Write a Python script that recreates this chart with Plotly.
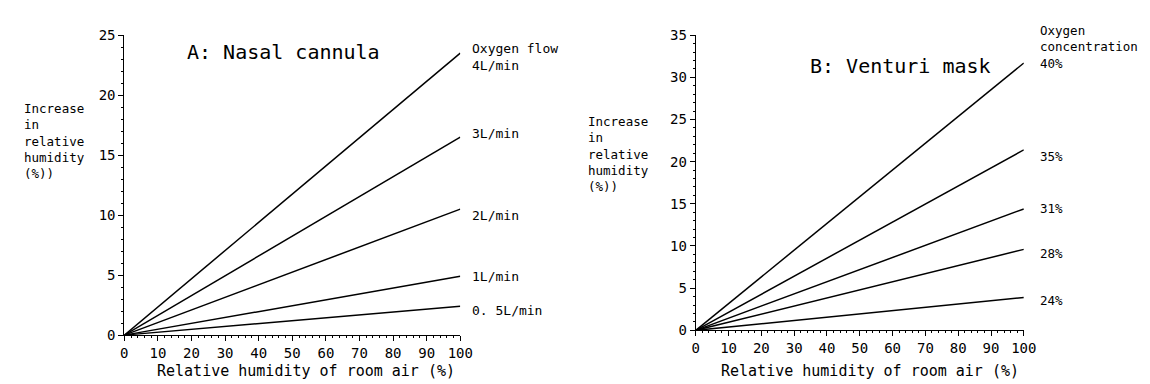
import plotly.graph_objects as go

# ---- data ----
room_rh = [0, 100]
nasal_labels = ["Oxygen flow<br>4L/min", "3L/min", "2L/min", "1L/min", "0. 5L/min"]
nasal_end = [23.5, 16.5, 10.5, 4.9, 2.4]
venturi_labels = ["Oxygen<br>concentration<br>40%", "35%", "31%", "28%", "24%"]
venturi_end = [31.7, 21.4, 14.4, 9.6, 3.9]

# label pixel offsets (styling)
nasal_yshift = [-4, 4, -6, 0, -4]
venturi_yshift = [16, -7, 0, -4, -3]

W, H = 1150, 384
FONT = "DejaVu Sans Mono"

def px_x(p):
    return p / W

def px_y(p):
    return 1 - p / H

fig = go.Figure()

for v in nasal_end:
    fig.add_trace(go.Scatter(x=room_rh, y=[0, v], mode="lines",
                             line=dict(color="black", width=1.5),
                             xaxis="x", yaxis="y", showlegend=False, hoverinfo="skip"))
for v in venturi_end:
    fig.add_trace(go.Scatter(x=room_rh, y=[0, v], mode="lines",
                             line=dict(color="black", width=1.5),
                             xaxis="x2", yaxis="y2", showlegend=False, hoverinfo="skip"))

axis_common = dict(showline=True, linecolor="black", linewidth=1, showgrid=False,
                   zeroline=False, ticks="outside", ticklen=5, tickcolor="black",
                   tickfont=dict(family=FONT, size=14, color="black"))

fig.update_layout(
    width=W, height=H,
    margin=dict(l=0, r=0, t=0, b=0),
    paper_bgcolor="white", plot_bgcolor="white",
    xaxis=dict(domain=[px_x(114), px_x(455)], range=[0, 100], dtick=10, anchor="y",
               minor=dict(dtick=2, ticks="outside", ticklen=2, tickcolor="black"),
               **axis_common),
    yaxis=dict(domain=[px_y(333), px_y(20)], range=[0, 25], dtick=5, anchor="x",
               minor=dict(dtick=1, ticks="outside", ticklen=2, tickcolor="black"),
               **axis_common),
    xaxis2=dict(domain=[px_x(694), px_x(1027)], range=[0, 100], dtick=10, anchor="y2",
                minor=dict(dtick=2, ticks="outside", ticklen=2, tickcolor="black"),
                **axis_common),
    yaxis2=dict(domain=[px_y(328), px_y(20)], range=[0, 35], dtick=5, anchor="x2",
                minor=dict(dtick=1, ticks="outside", ticklen=2, tickcolor="black"),
                **axis_common),
)

ann = []
for lab, v, ys in zip(nasal_labels, nasal_end, nasal_yshift):
    ann.append(dict(x=100, y=v, xref="x", yref="y", text=lab, showarrow=False,
                    xanchor="left", yanchor="middle", align="left", xshift=10, yshift=ys,
                    font=dict(family=FONT, size=13, color="black")))
for lab, v, ys in zip(venturi_labels, venturi_end, venturi_yshift):
    ann.append(dict(x=100, y=v, xref="x2", yref="y2", text=lab, showarrow=False,
                    xanchor="left", yanchor="middle", align="left", xshift=14, yshift=ys,
                    font=dict(family=FONT, size=12.5, color="black")))

ytitle = "Increase<br>in<br>relative<br>humidity<br>(%))"
ann.append(dict(x=px_x(10), y=px_y(87), xref="paper", yref="paper", text=ytitle,
                showarrow=False, xanchor="left", yanchor="top", align="left",
                font=dict(family=FONT, size=12.5, color="black")))
ann.append(dict(x=px_x(583), y=px_y(100), xref="paper", yref="paper", text=ytitle,
                showarrow=False, xanchor="left", yanchor="top", align="left",
                font=dict(family=FONT, size=12.5, color="black")))

ann.append(dict(x=px_x(176), y=px_y(38), xref="paper", yref="paper", text="A: Nasal cannula",
                showarrow=False, xanchor="left", yanchor="middle",
                font=dict(family=FONT, size=20, color="black")))
ann.append(dict(x=px_x(808), y=px_y(52), xref="paper", yref="paper", text="B: Venturi mask",
                showarrow=False, xanchor="left", yanchor="middle",
                font=dict(family=FONT, size=20, color="black")))

xtitle = "Relative humidity of room air (%)"
ann.append(dict(x=px_x(298), y=px_y(370), xref="paper", yref="paper", text=xtitle,
                showarrow=False, xanchor="center", yanchor="middle",
                font=dict(family=FONT, size=15, color="black")))
ann.append(dict(x=px_x(871), y=px_y(370), xref="paper", yref="paper", text=xtitle,
                showarrow=False, xanchor="center", yanchor="middle",
                font=dict(family=FONT, size=15, color="black")))

fig.update_layout(annotations=ann)
fig.write_html("out.html")
